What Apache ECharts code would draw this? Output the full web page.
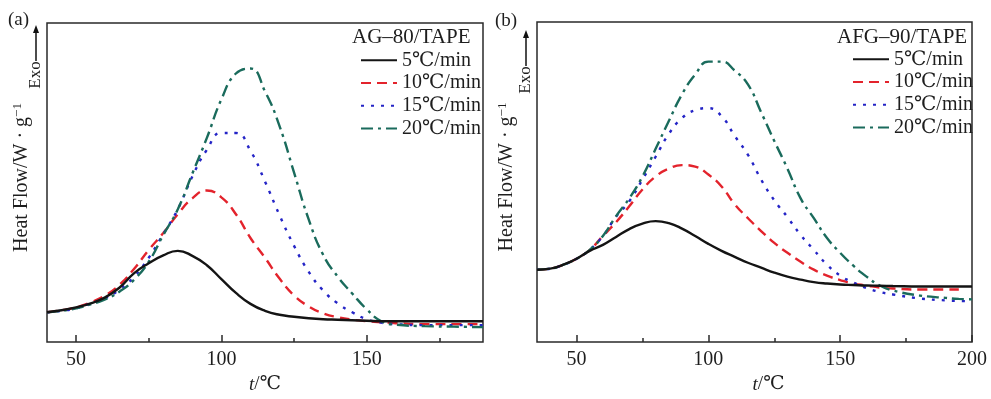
<!DOCTYPE html>
<html><head><meta charset="utf-8">
<script src="https://cdn.jsdelivr.net/npm/echarts@6/dist/echarts.min.js"></script>
<style>html,body{margin:0;padding:0;background:#fff}#c{width:991px;height:399px}</style>
</head><body><div id="c"></div>
<script>
// ---------- data ----------
const rateNames = ['5℃/min', '10℃/min', '15℃/min', '20℃/min'];

// panel (a) AG-80/TAPE
const tA = [40,45,50,55,60,65,70,75,80,85,90,95,100,105,110,115,120,125,130,135,140,145,150,155,160,170,180,190];
const a5  = [3.0,3.2,3.5,3.9,4.5,5.5,6.95,7.95,8.75,9.2,8.7,7.75,6.35,4.95,3.85,3.15,2.75,2.55,2.4,2.3,2.25,2.2,2.15,2.1,2.1,2.1,2.1,2.1];
const a10 = [3.0,3.2,3.5,4.0,4.7,5.8,7.4,9.3,11.0,12.9,14.5,15.3,14.6,12.9,10.5,8.5,6.4,4.7,3.6,2.9,2.5,2.25,2.1,2.0,1.9,1.8,1.8,1.8];
const a15 = [3.0,3.15,3.4,3.9,4.4,5.3,6.6,8.5,10.9,13.4,16.7,19.4,21.1,21.1,19.3,16.2,12.8,9.7,7.1,5.2,3.9,3.0,2.3,1.95,1.8,1.7,1.7,1.7];
const a20 = [3.0,3.15,3.4,3.8,4.3,5.1,6.3,8.1,10.8,13.4,17.0,20.6,24.5,27.1,27.6,25.3,21.8,17.1,12.4,8.8,6.6,4.9,3.3,2.1,1.75,1.6,1.55,1.5];

// panel (b) AFG-90/TAPE
const tB = [35,40,45,50,55,60,65,70,75,80,85,90,95,100,105,110,115,120,125,130,135,140,145,150,155,160,165,170,180,190,195,200];
const b5  = [7.3,7.4,7.8,8.4,9.2,9.8,10.6,11.4,11.95,12.2,12.0,11.45,10.7,9.9,9.2,8.6,8.0,7.5,7.0,6.6,6.3,6.05,5.9,5.8,5.75,5.7,5.68,5.65,5.6,5.6,5.6,5.6];
const b10 = [7.3,7.4,7.8,8.4,9.3,10.7,12.1,13.7,15.4,16.7,17.5,17.85,17.7,16.9,15.7,13.9,12.5,11.2,10.0,9.0,8.1,7.3,6.7,6.25,5.9,5.7,5.5,5.4,5.3,5.3,5.3,null];
const b15 = [7.3,7.4,7.8,8.4,9.3,10.7,12.65,14.2,16.4,18.7,21.0,22.6,23.4,23.6,22.8,20.8,18.9,16.4,14.3,12.6,10.8,9.3,7.8,6.7,6.0,5.45,5.05,4.8,4.4,4.2,4.15,4.1];
const b20 = [7.3,7.4,7.8,8.4,9.3,10.7,12.7,14.5,16.7,19.5,22.3,25.0,27.0,28.3,28.3,27.4,26.0,23.2,20.3,17.5,14.5,12.5,10.5,9.0,7.7,6.6,5.7,5.2,4.7,4.45,4.35,4.3];

const xMajorA = [50,100,150];
const xMinorA = [75,125,175];
const xMajorB = [50,100,150,200];
const xMinorB = [75,125,175];

// ---------- styles ----------
const FONT = "'Liberation Serif','Times New Roman','DejaVu Serif',serif";
const TXT = '#1e1e1e';
const lineStyles = [
  {color:'#141414', type:'solid'},
  {color:'#e3232c', type:[10,6]},
  {color:'#2424c6', type:[3,7]},
  {color:'#1a6b5c', type:[12,5,3,5]}
];

function mkSeries(t, vals, i, ax) {
  return {
    type:'line', name: rateNames[i], xAxisIndex: ax*2, yAxisIndex: ax,
    data: t.map((x,k) => [x, vals[k]]),
    symbol:'none', smooth:0.5, connectNulls:false,
    lineStyle:{color:lineStyles[i].color, type:lineStyles[i].type, width:2.4},
    itemStyle:{color:lineStyles[i].color},
    z: 2 + (i === 0 ? 4 : i)
  };
}

function xAxes(gridIndex, min, max, major, minor, padLeft) {
  return [{
    type:'value', gridIndex, min, max,
    name:'{i|t}/℃', nameLocation:'middle', nameGap:33,
    nameTextStyle:{fontFamily:FONT, fontSize:19, color:TXT, padding:[0,0,0,padLeft],
      rich:{i:{fontFamily:FONT, fontSize:19, fontStyle:'italic', color:TXT}}},
    axisLine:{show:false},
    axisTick:{show:true, inside:true, length:7, customValues:major, lineStyle:{color:'#2a2a2a', width:1.5}},
    axisLabel:{customValues:major, fontFamily:FONT, fontSize:20, color:TXT, margin:8},
    splitLine:{show:false}
  },{
    type:'value', gridIndex, min, max, position:'bottom',
    axisLine:{show:false},
    axisTick:{show:true, inside:true, length:4, customValues:minor, lineStyle:{color:'#2a2a2a', width:1.5}},
    axisLabel:{show:false},
    splitLine:{show:false}
  }];
}

function yAxis(gridIndex, max, gap) {
  return {
    type:'value', gridIndex, min:0, max,
    name:'Heat Flow/W · g{s|−1}', nameLocation:'middle', nameRotate:90, nameGap:gap,
    nameTextStyle:{fontFamily:FONT, fontSize:20, color:TXT, lineHeight:21, padding:[0,0,0,10],
      rich:{s:{fontFamily:FONT, fontSize:13, color:TXT, verticalAlign:'top', lineHeight:13}}},
    axisLine:{show:false}, axisTick:{show:false}, axisLabel:{show:false}, splitLine:{show:false}
  };
}

function exo(cx, textY, arrowBottom, arrowTop) {
  return [
    {type:'text', x:cx, y:textY, rotation:Math.PI/2,
     style:{text:'Exo', fontFamily:FONT, fontSize:17, fill:TXT, align:'center', verticalAlign:'middle'}},
    {type:'line', shape:{x1:cx, y1:arrowBottom, x2:cx, y2:arrowTop+6}, style:{stroke:'#111', lineWidth:1.5}},
    {type:'polygon', shape:{points:[[cx,arrowTop],[cx-3,arrowTop+8],[cx+3,arrowTop+8]]}, style:{fill:'#111'}}
  ];
}

const legendBase = {orient:'vertical', padding:0, itemWidth:36, itemHeight:14, itemGap:0, selectedMode:false,
  data:rateNames, itemStyle:{opacity:0},
  textStyle:{fontFamily:FONT, fontSize:20, lineHeight:22.7, color:TXT}};

const chart = echarts.init(document.getElementById('c'), null, {renderer:'canvas'});
chart.setOption({
  animation:false,
  backgroundColor:'#ffffff',
  title:[
    {text:'AG–80/TAPE', left:352, top:27, padding:0, textStyle:{fontFamily:FONT, fontSize:21, fontWeight:'normal', color:TXT}},
    {text:'AFG–90/TAPE', left:837, top:27, padding:0, textStyle:{fontFamily:FONT, fontSize:21, fontWeight:'normal', color:TXT}}
  ],
  legend:[
    Object.assign({}, legendBase, {left:360, top:49}),
    Object.assign({}, legendBase, {left:852, top:48})
  ],
  grid:[
    {left:47, right:508, top:23, bottom:54, show:true, borderColor:'#2a2a2a', borderWidth:1.5, backgroundColor:'transparent'},
    {left:537, right:19, top:22, bottom:54, show:true, borderColor:'#2a2a2a', borderWidth:1.5, backgroundColor:'transparent'}
  ],
  xAxis:[...xAxes(0, 40, 190, xMajorA, xMinorA, 0), ...xAxes(1, 35, 200, xMajorB, xMinorB, 28)],
  yAxis:[yAxis(0, 32.2, 15), yAxis(1, 32.3, 20)],
  graphic:[
    {type:'text', x:8, y:11, style:{text:'(a)', fontFamily:FONT, fontSize:19, fill:TXT}},
    {type:'text', x:495, y:12, style:{text:'(b)', fontFamily:FONT, fontSize:19, fill:TXT}},
    ...exo(36, 75, 61, 25),
    ...exo(526, 80, 66, 30)
  ],
  series:[
    mkSeries(tA, a5, 0, 0), mkSeries(tA, a10, 1, 0), mkSeries(tA, a15, 2, 0), mkSeries(tA, a20, 3, 0),
    mkSeries(tB, b5, 0, 1), mkSeries(tB, b10, 1, 1), mkSeries(tB, b15, 2, 1), mkSeries(tB, b20, 3, 1)
  ]
});
</script>
</body></html>
